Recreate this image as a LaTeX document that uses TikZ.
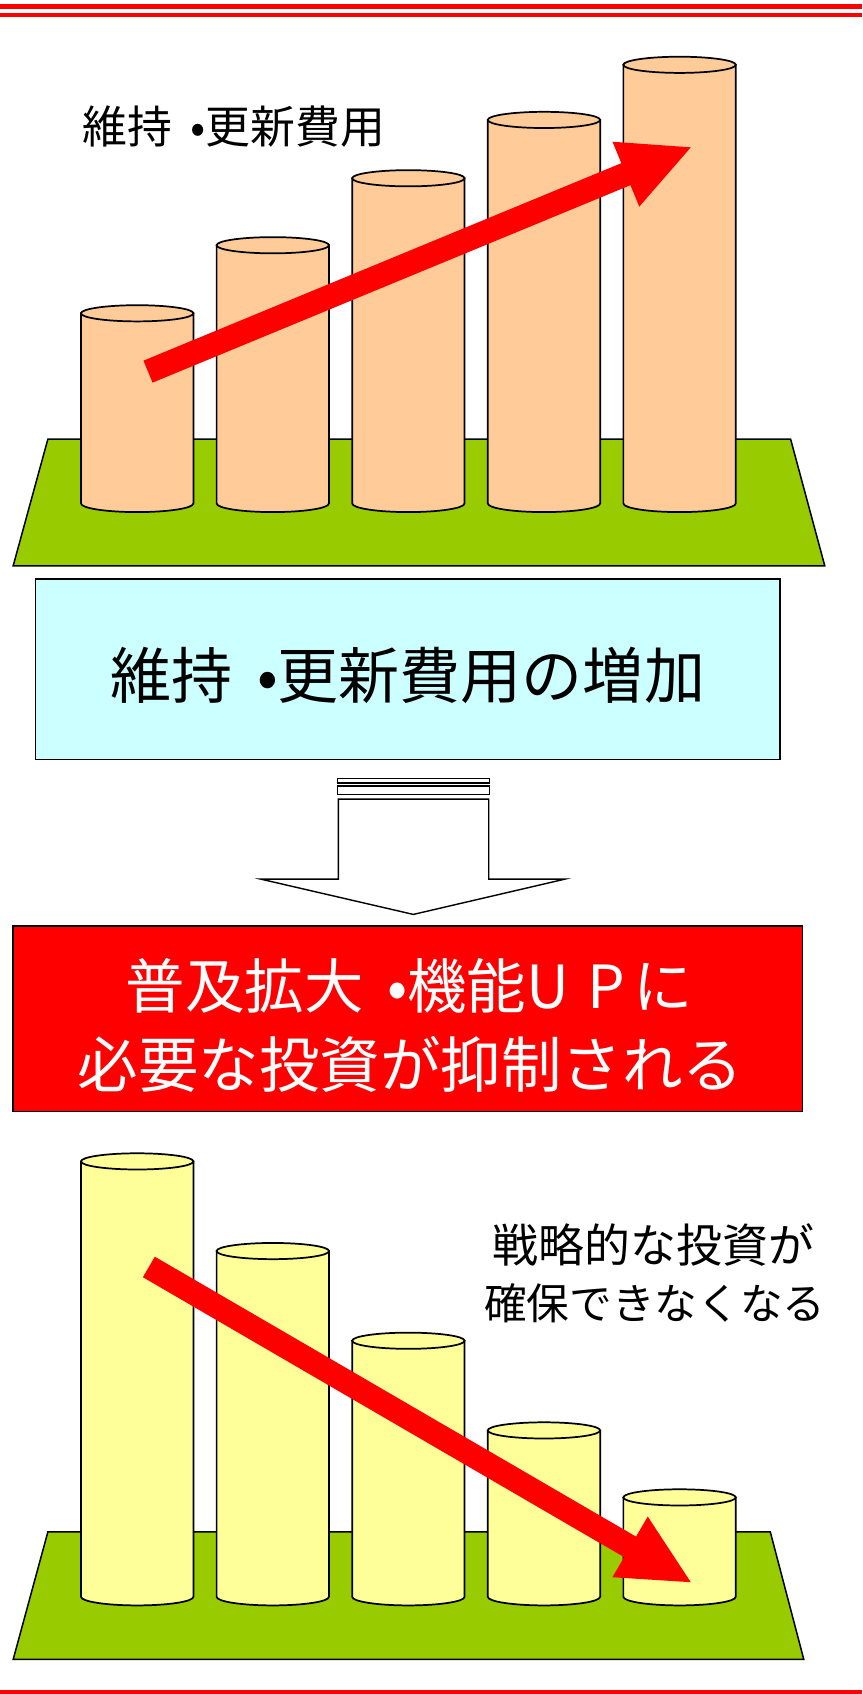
\documentclass[tikz,border=0pt]{standalone}
\usepackage{fontspec}
\newfontfamily\jp{Noto Sans CJK JP}
\usetikzlibrary{calc}
\definecolor{cylA}{HTML}{FFCC99}
\definecolor{cylB}{HTML}{FFFF99}
\definecolor{base}{HTML}{99CC00}
\definecolor{cyanbox}{HTML}{CCFFFF}
\definecolor{redc}{HTML}{FF0000}
\newcommand\cylinder[4]{%
  \filldraw[fill=#4, cylline] (#1-52,#2) -- (#1-52,#3) arc[start angle=180,end angle=360,x radius=52pt,y radius=8pt] -- (#1+52,#2) -- cycle;
  \filldraw[fill=#4, cylline] (#1,#2) ellipse[x radius=52pt,y radius=7.5pt];
}
\newcommand\bigarrow[3]{%
  \coordinate (#1S) at (#2);
  \coordinate (#1T) at (#3);
  \coordinate (#1B) at ($(#1T)!65pt!(#1S)$);
  \draw[redc, line width=22pt] (#1S) -- ($(#1B)!3pt!(#1T)$);
  \fill[redc] ($(#1B)!32.5pt!90:(#1T)$) -- (#1T) -- ($(#1B)!32.5pt!-90:(#1T)$) -- cycle;
}
\newcommand\jdot{\hspace{0.4em}•}
\tikzset{
  cylline/.style={draw=black, line width=1.6pt},
  boxline/.style={draw=black, line width=1.4pt},
  jptext/.style={font=\jp\fontsize{#1}{#1}\selectfont, inner sep=0pt},
}
\begin{document}
\begin{tikzpicture}[x=1pt,y=-1pt]
\useasboundingbox (0,0) rectangle (798,1568);
% top double line
\fill[redc] (0,3.7) rectangle (798,8.1);
\fill[redc] (0,11.8) rectangle (798,15.5);
% bottom line
\fill[redc] (0,1564.3) rectangle (798,1568);

% ---- top chart ----
\filldraw[fill=base, boxline] (44.3,406.5) -- (731.8,406.5) -- (763.4,523.7) -- (12.2,523.7) -- cycle;
\cylinder{127}{290}{466}{cylA}
\cylinder{252.5}{227}{466}{cylA}
\cylinder{378}{165}{466}{cylA}
\cylinder{503.5}{111}{466}{cylA}
\cylinder{629}{60}{466}{cylA}
\bigarrow{up}{137,344}{639.4,136.4}
\node[jptext=41.5] (lblA) at (216.5,117) {維持\jdot 更新費用};

% ---- cyan box ----
\node[boxline, fill=cyanbox, minimum width=689pt, minimum height=167pt, inner sep=0pt] (boxA) at (377.5,619.5) {};
\node[jptext=56.5] (txtA) at (377.5,625) {維持\jdot 更新費用の増加};

% ---- down block arrow ----
\filldraw[fill=white, draw=black, line width=1.3pt] (312.3,720.5) rectangle (453,724.6);
\filldraw[fill=white, draw=black, line width=1.3pt] (312.3,727.6) rectangle (453,735.3);
\filldraw[fill=white, draw=black, line width=1.3pt, line join=miter]
  (313.2,739.7) -- (452.4,739.7) -- (452.4,813.7) -- (523,813.7) -- (382.6,846.4)
  -- (241.3,813.7) -- (313.2,813.7) -- cycle;

% ---- red box ----
\node[boxline, fill=redc, minimum width=731pt, minimum height=172pt, inner sep=0pt] (boxB) at (377.5,943) {};
\node[jptext=55, text=white] (txtB1) at (379,913) {普及拡大\jdot 機能U\hspace{0.3em}P\hspace{0.15em}に};
\node[jptext=56, text=white] (txtB2) at (380,985) {必要な投資が抑制される};

% ---- bottom chart ----
\filldraw[fill=base, boxline] (44.3,1418) -- (713,1418) -- (744,1536) -- (12.2,1536) -- cycle;
\cylinder{127}{1075}{1478}{cylB}
\cylinder{252.5}{1158}{1478}{cylB}
\cylinder{378}{1241}{1478}{cylB}
\cylinder{503.5}{1324}{1478}{cylB}
\cylinder{629}{1386}{1478}{cylB}
\bigarrow{dn}{137.8,1172.7}{639.4,1464.5}
\node[jptext=42.5] (txtC1) at (605,1152) {戦略的な投資が};
\node[jptext=39.5] (txtC2) at (606,1206) {確保できなくなる};
\end{tikzpicture}
\end{document}
